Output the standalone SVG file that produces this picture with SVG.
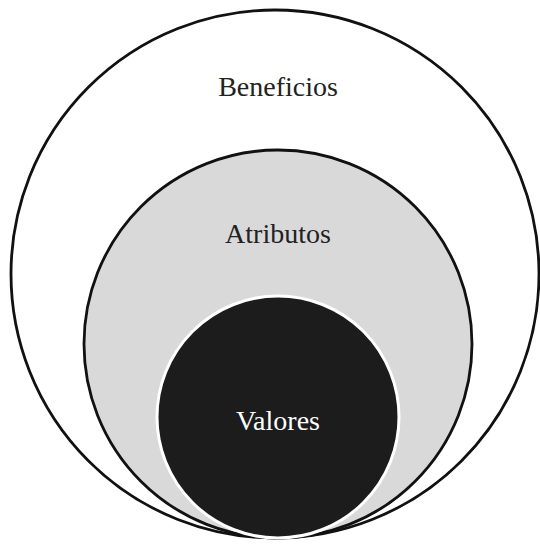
<svg xmlns="http://www.w3.org/2000/svg" width="540" height="546" viewBox="0 0 540 546">
<style>
.ring{stroke:#111;stroke-width:2.8}
.lbl{font-family:"Liberation Serif","Times New Roman",serif;font-size:28px;text-anchor:middle}
</style>
<rect width="540" height="546" fill="#fff"/>
<g id="beneficios">
<circle class="ring" cx="275" cy="274" r="264" fill="#fff"/>
<text class="lbl" x="278" y="96" fill="#222">Beneficios</text>
</g>
<g id="atributos">
<circle class="ring" cx="278" cy="344" r="194" fill="#d9d9d9"/>
<text class="lbl" x="278" y="243" fill="#222">Atributos</text>
</g>
<g id="valores">
<circle cx="278" cy="417" r="121" fill="#1c1c1c" stroke="#fff" stroke-width="3"/>
<text class="lbl" x="278" y="430" fill="#fff">Valores</text>
</g>
<g id="connectors"/>
</svg>
